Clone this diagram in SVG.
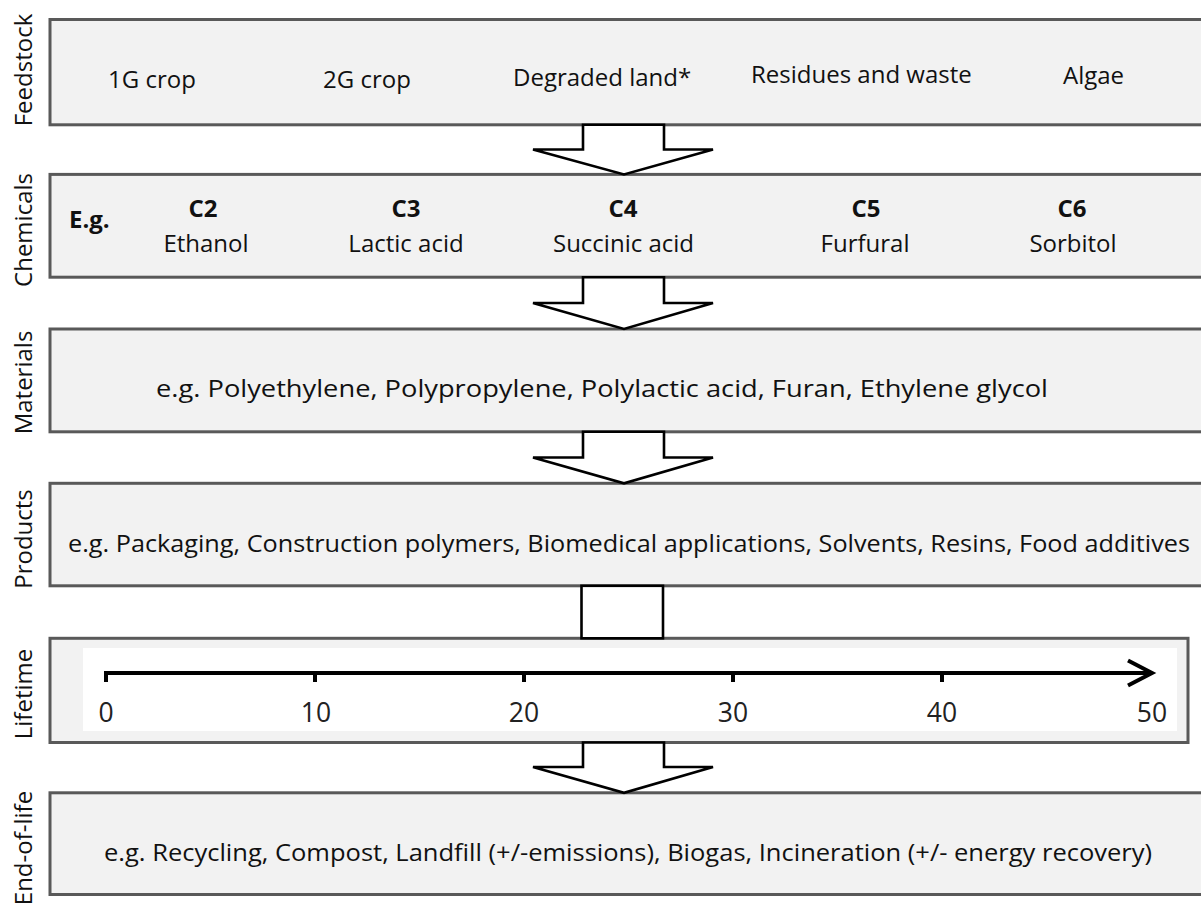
<svg xmlns="http://www.w3.org/2000/svg" width="1201" height="909" viewBox="0 0 1201 909">
<style>
.box{fill:#f2f2f2;stroke:#595959;stroke-width:3}
.t{font-family:"Open Sans","Liberation Sans",sans-serif;font-size:24px;fill:#111}
.b{font-weight:bold}
.m{text-anchor:middle}
.arrow{fill:#fff;stroke:#000;stroke-width:2.6;stroke-linejoin:miter}
.axis{fill:none;stroke:#000;stroke-width:4}
.num{font-family:"Open Sans","Liberation Sans",sans-serif;font-size:26.5px;fill:#222;text-anchor:middle}
</style>
<rect width="1201" height="909" fill="#fff"/>

<g id="feedstock">
<rect class="box" x="50" y="19.5" width="1170" height="105.3"/>
<text class="t m" transform="translate(32,70) rotate(-90)">Feedstock</text>
<text class="t" x="108" y="88">1G crop</text>
<text class="t" x="323" y="88">2G crop</text>
<text class="t" x="513" y="86">Degraded land*</text>
<text class="t" x="751" y="83">Residues and waste</text>
<text class="t" x="1063" y="83.5">Algae</text>
</g>

<g id="chemicals">
<rect class="box" x="50" y="174.4" width="1170" height="102.8"/>
<text class="t m" transform="translate(32,230) rotate(-90)">Chemicals</text>
<text class="t b" x="69" y="228">E.g.</text>
<text class="t b m" x="203" y="217">C2</text>
<text class="t m" x="206" y="252">Ethanol</text>
<text class="t b m" x="406" y="217">C3</text>
<text class="t m" x="406" y="252">Lactic acid</text>
<text class="t b m" x="623" y="217">C4</text>
<text class="t m" x="623.5" y="252">Succinic acid</text>
<text class="t b m" x="866" y="217">C5</text>
<text class="t m" x="865" y="252">Furfural</text>
<text class="t b m" x="1072" y="217">C6</text>
<text class="t m" x="1073" y="252">Sorbitol</text>
</g>

<g id="materials">
<rect class="box" x="50" y="329" width="1170" height="102.8"/>
<text class="t m" transform="translate(32,382.5) rotate(-90)">Materials</text>
<text class="t" x="156" y="397" textLength="892" lengthAdjust="spacingAndGlyphs">e.g. Polyethylene, Polypropylene, Polylactic acid, Furan, Ethylene glycol</text>
</g>

<g id="products">
<rect class="box" x="50" y="483.3" width="1170" height="102.5"/>
<text class="t m" transform="translate(32,539) rotate(-90)">Products</text>
<text class="t" x="68" y="552" textLength="1122" lengthAdjust="spacingAndGlyphs">e.g. Packaging, Construction polymers, Biomedical applications, Solvents, Resins, Food additives</text>
</g>

<g id="lifetime">
<rect class="box" x="50" y="638.3" width="1138" height="104.2"/>
<text class="t m" transform="translate(32,694) rotate(-90)">Lifetime</text>
<rect x="83" y="648" width="1094" height="83" fill="#fff"/>
<line class="axis" x1="104" y1="673" x2="1152" y2="673"/>
<polyline class="axis" points="1128,660.5 1152,673 1128,685.5"/>
<g class="axis">
<line x1="106" y1="671" x2="106" y2="682"/>
<line x1="315" y1="671" x2="315" y2="682"/>
<line x1="524" y1="671" x2="524" y2="682"/>
<line x1="733" y1="671" x2="733" y2="682"/>
<line x1="942" y1="671" x2="942" y2="682"/>
</g>
<text class="num" x="106" y="721.5">0</text>
<text class="num" x="316" y="721.5">10</text>
<text class="num" x="524" y="721.5">20</text>
<text class="num" x="733" y="721.5">30</text>
<text class="num" x="942" y="721.5">40</text>
<text class="num" x="1152" y="721.5">50</text>
</g>

<g id="end-of-life">
<rect class="box" x="50" y="792.8" width="1170" height="101.7"/>
<text class="t m" transform="translate(32,848) rotate(-90)">End-of-life</text>
<text class="t" x="104" y="861" textLength="1048" lengthAdjust="spacingAndGlyphs">e.g. Recycling, Compost, Landfill (+/-emissions), Biogas, Incineration (+/- energy recovery)</text>
</g>

<g id="connectors">
<polygon class="arrow" points="583,124.8 664,124.8 664,149.5 713,149.5 624,174.4 533,149.5 583,149.5"/>
<polygon class="arrow" points="583,277.2 664,277.2 664,303 713,303 624,329 533,303 583,303"/>
<polygon class="arrow" points="583,431.8 664,431.8 664,457.5 713,457.5 624,483.3 533,457.5 583,457.5"/>
<rect class="arrow" x="581.5" y="585.8" width="81.5" height="52.5"/>
<polygon class="arrow" points="583,742.5 664,742.5 664,767 713,767 624,792.8 533,767 583,767"/>
</g>
</svg>
